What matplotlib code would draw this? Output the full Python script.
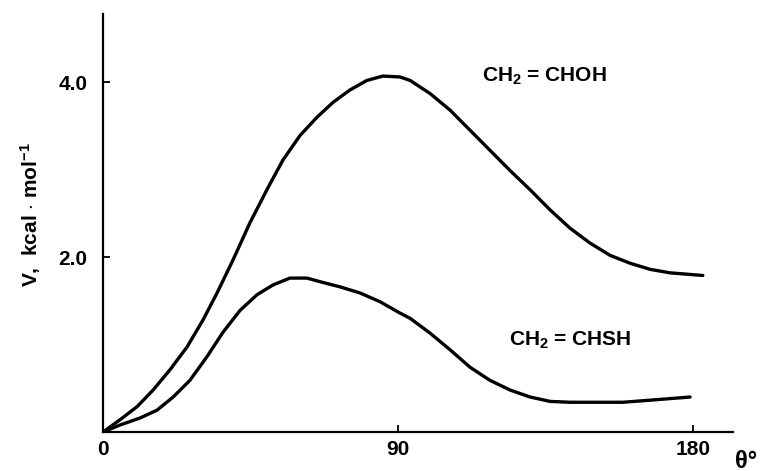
import matplotlib
matplotlib.use("Agg")
import matplotlib.pyplot as plt

# torsion angle theta (deg) and barrier V (kcal/mol)
theta_choh = [0, 5.2, 10.4, 15.3, 20.4, 25.6, 30.5, 34.8, 39.7, 44.8, 50.0, 54.9,
              60.1, 65.3, 70.2, 75.3, 80.5, 85.4, 90.6, 93.7, 99.8, 105.9, 112.0,
              118.1, 124.2, 130.3, 136.4, 142.5, 148.6, 154.7, 160.8, 166.9,
              173.0, 183.0]
v_choh = [0, 0.14, 0.29, 0.48, 0.71, 0.97, 1.28, 1.59, 1.97, 2.39, 2.77, 3.11,
          3.39, 3.60, 3.77, 3.91, 4.02, 4.07, 4.06, 4.02, 3.87, 3.68, 3.45,
          3.22, 2.99, 2.77, 2.54, 2.33, 2.16, 2.02, 1.93, 1.86,
          1.82, 1.79]

theta_chsh = [0, 5.2, 11.3, 16.5, 21.4, 26.5, 31.7, 36.6, 41.8, 47.0, 51.8, 57.0,
              62.2, 67.1, 72.3, 78.4, 84.5, 90.6, 93.7, 99.8, 105.9, 112.0,
              118.1, 124.2, 130.3, 136.4, 142.5, 148.6, 158.6, 169.0, 179.1]
v_chsh = [0, 0.08, 0.16, 0.25, 0.40, 0.59, 0.86, 1.14, 1.39, 1.57, 1.68, 1.76,
          1.76, 1.71, 1.66, 1.59, 1.49, 1.36, 1.30, 1.13, 0.94, 0.74,
          0.59, 0.48, 0.40, 0.35, 0.34, 0.34, 0.34, 0.37, 0.40]

x_ticks = [0, 90, 180]
x_labels = ["0", "90", "180"]
y_ticks = [2.0, 4.0]
y_labels = ["2.0", "4.0"]

plt.rcParams['font.family'] = ['Liberation Sans', 'DejaVu Sans']
plt.rcParams['font.weight'] = 'bold'
plt.rcParams['mathtext.fontset'] = 'custom'
plt.rcParams['mathtext.rm'] = 'Liberation Sans:bold'
plt.rcParams['mathtext.it'] = 'Liberation Sans:bold'
plt.rcParams['mathtext.bf'] = 'Liberation Sans:bold'

fig = plt.figure(figsize=(7.64, 4.71), dpi=100)
ax = fig.add_axes([0.1348, 0.0828, 0.8246, 0.8875])

ax.plot(theta_choh, v_choh, 'k-', lw=2.4, solid_joinstyle='round', solid_capstyle='round')
ax.plot(theta_chsh, v_chsh, 'k-', lw=2.4, solid_joinstyle='round', solid_capstyle='round')

ax.set_xlim(0, 192.2)
ax.set_ylim(0, 4.78)

for s in ['top', 'right']:
    ax.spines[s].set_visible(False)
for s in ['left', 'bottom']:
    ax.spines[s].set_linewidth(1.6)

ax.set_xticks(x_ticks)
ax.set_xticklabels(x_labels, fontsize=15, fontweight='bold')
ax.set_yticks(y_ticks)
ax.set_yticklabels(y_labels, fontsize=15, fontweight='bold')
ax.tick_params(direction='in', length=5, width=1.3)
ax.tick_params(axis='x', pad=6)
ax.tick_params(axis='y', pad=11)

fig.text(31 / 764, 1 - 215 / 471, r"V,  kcal $\cdot$ mol$^{-1}$", fontsize=15,
         fontweight='bold', rotation=90, ha='center', va='center')

ax.text(115.5, 4.07, r"CH$_2$ = CHOH", fontsize=15, fontweight='bold', va='center')
ax.text(123.8, 1.05, r"CH$_2$ = CHSH", fontsize=15, fontweight='bold', va='center')

fig.text(746 / 764, 1 - 461 / 471, "θ°", fontsize=17, fontweight='bold',
         ha='center', va='center')

fig.savefig("out.png", dpi=100)
